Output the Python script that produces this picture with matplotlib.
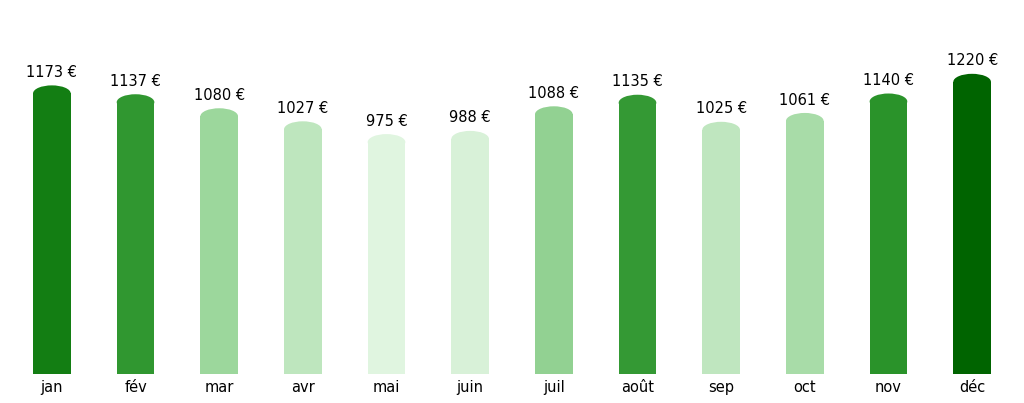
import matplotlib
matplotlib.use("Agg")
import matplotlib.pyplot as plt
from matplotlib.patches import Ellipse
from matplotlib.colors import LinearSegmentedColormap, Normalize

months = ["jan", "fév", "mar", "avr", "mai", "juin", "juil", "août", "sep", "oct", "nov", "déc"]
values = [1173, 1137, 1080, 1027, 975, 988, 1088, 1135, 1025, 1061, 1140, 1220]

cmap = LinearSegmentedColormap.from_list(
    "g", [(0, "#e0f5e0"), (0.45, "#98d598"), (0.7, "#1e8c1e"), (1, "#006400")])
norm = Normalize(min(values), max(values))

fig = plt.figure(figsize=(10.24, 4.03), dpi=100)
ax = fig.add_axes([0.0, 1 - 374 / 403, 1.0, 374 / 403])
ax.set_xlim(-0.62, len(months) - 0.38)
ymax = 1520
ax.set_ylim(0, ymax)

w = 0.45
r = 8 * ymax / 374  # cap half height in data units
for i, v in enumerate(values):
    c = cmap(norm(v))
    ax.bar(i, v - r, width=w, color=c, linewidth=0)
    ax.add_patch(Ellipse((i, v - r), w, 2 * r, color=c, linewidth=0))
    ax.text(i, v + 22, f"{v} €", ha="center", va="bottom", fontsize=10.5)

ax.set_xticks(range(len(months)))
ax.set_xticklabels(months, fontsize=10.5)
ax.tick_params(length=0, pad=4)
ax.set_yticks([])
for s in ax.spines.values():
    s.set_visible(False)

fig.savefig("out.png", dpi=100)
